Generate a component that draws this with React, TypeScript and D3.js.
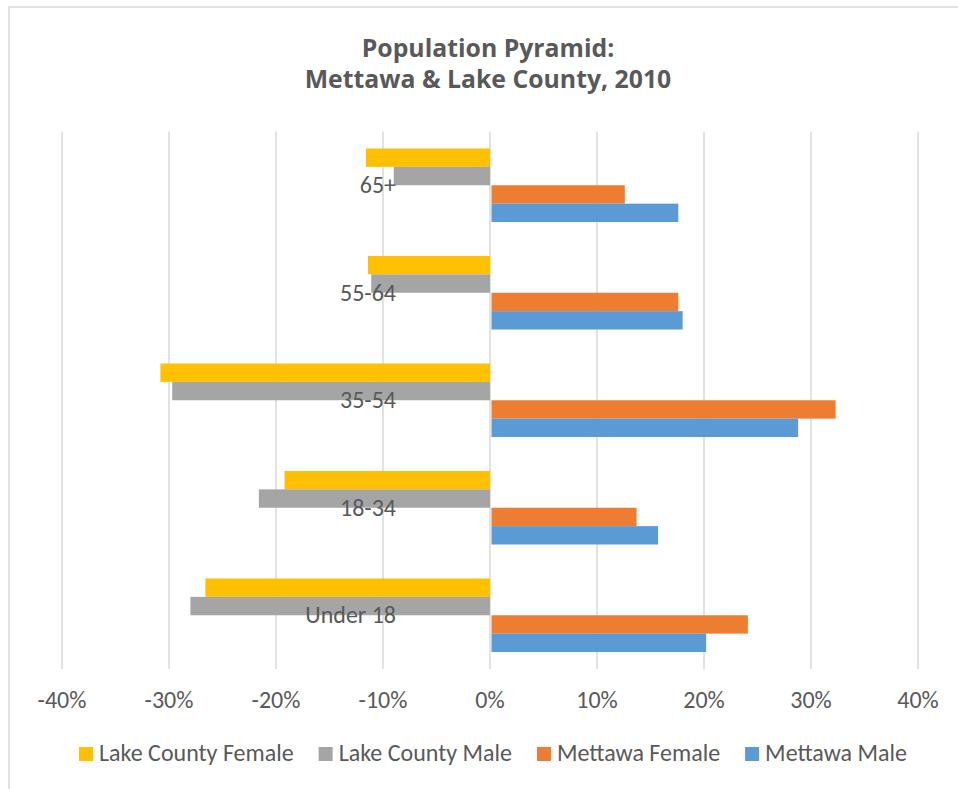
import React, { useEffect, useRef } from "react";
import * as d3 from "d3";

// Age groups, top to bottom
const ageGroups = ["65+", "55-64", "35-54", "18-34", "Under 18"];

// Series names (legend order) and colours
const seriesNames = ["Lake County Female", "Lake County Male", "Mettawa Female", "Mettawa Male"];
const seriesColors = ["#FFC000", "#A5A5A5", "#ED7D31", "#5B9BD5"];

// Share of population by age group (Lake County plotted to the left as negatives)
const lakeCountyFemale = [-0.116, -0.114, -0.308, -0.192, -0.266];
const lakeCountyMale = [-0.09, -0.111, -0.297, -0.216, -0.28];
const mettawaFemale = [0.126, 0.176, 0.323, 0.137, 0.241];
const mettawaMale = [0.176, 0.18, 0.288, 0.157, 0.202];

const tickValues = [-0.4, -0.3, -0.2, -0.1, 0, 0.1, 0.2, 0.3, 0.4];
const titleLines = ["Population Pyramid:", "Mettawa & Lake County, 2010"];

const W = 958;
const H = 789;
const FONT = "Calibri, Carlito, 'Open Sans', sans-serif";
const TITLE_FONT = "'Open Sans', 'Segoe UI', sans-serif";
const TEXT = "#595959";
const LABEL_SIZE = 24;

export default function App() {
  const ref = useRef<SVGSVGElement | null>(null);

  useEffect(() => {
    const svg = d3.select(ref.current);
    svg.selectAll("*").remove();

    const seriesValues = [lakeCountyFemale, lakeCountyMale, mettawaFemale, mettawaMale];

    // chart frame
    svg
      .append("rect")
      .attr("x", 9)
      .attr("y", 7)
      .attr("width", 980)
      .attr("height", 800)
      .attr("fill", "#fff")
      .attr("stroke", "#d9d9d9")
      .attr("stroke-width", 1.5);

    // title
    svg
      .append("g")
      .selectAll("text")
      .data(titleLines)
      .join("text")
      .attr("x", 488)
      .attr("y", (_, i) => 56.5 + i * 31.5)
      .attr("text-anchor", "middle")
      .attr("font-family", TITLE_FONT)
      .attr("font-weight", "bold")
      .attr("font-size", 24.8)
      .attr("fill", TEXT)
      .text((d) => d);

    const x = d3.scaleLinear().domain([-0.4, 0.4]).range([62, 918]);
    const y = d3
      .scaleBand<string>()
      .domain(ageGroups)
      .range([131.5, 669])
      .paddingInner(0.316)
      .paddingOuter(0.158);
    const ySub = d3
      .scaleBand<number>()
      .domain(d3.range(seriesNames.length))
      .range([0, y.bandwidth()]);

    // vertical gridlines
    svg
      .append("g")
      .selectAll("line")
      .data(tickValues)
      .join("line")
      .attr("x1", (d) => x(d))
      .attr("x2", (d) => x(d))
      .attr("y1", 131.5)
      .attr("y2", 669)
      .attr("stroke", "#d9d9d9")
      .attr("stroke-width", 1.5);

    // bars
    const rows = ageGroups.flatMap((g, gi) =>
      seriesValues.map((vals, si) => ({ g, si, v: vals[gi] }))
    );
    svg
      .append("g")
      .selectAll("rect")
      .data(rows)
      .join("rect")
      .attr("x", (d) => (d.v < 0 ? x(d.v) : x(0) + 1.5))
      .attr("width", (d) => Math.abs(x(d.v) - x(0)) - (d.v < 0 ? 0 : 1.5))
      .attr("y", (d) => (y(d.g) as number) + (ySub(d.si) as number))
      .attr("height", ySub.bandwidth())
      .attr("fill", (d) => seriesColors[d.si]);

    // category labels
    svg
      .append("g")
      .selectAll("text")
      .data(ageGroups)
      .join("text")
      .attr("x", 396)
      .attr("y", (d) => (y(d) as number) + y.bandwidth() / 2 + 8)
      .attr("text-anchor", "end")
      .attr("font-family", FONT)
      .attr("font-size", LABEL_SIZE)
      .attr("fill", TEXT)
      .text((d) => d);

    // x-axis tick labels
    const fmt = d3.format(".0%");
    svg
      .append("g")
      .selectAll("text")
      .data(tickValues)
      .join("text")
      .attr("x", (d) => x(d))
      .attr("y", 708)
      .attr("text-anchor", "middle")
      .attr("font-family", FONT)
      .attr("font-size", LABEL_SIZE)
      .attr("fill", TEXT)
      .text((d) => fmt(d).replace("−", "-"));

    // legend, centred under the plot
    const legend = svg.append("g");
    const items = legend
      .selectAll("g")
      .data(seriesNames)
      .join("g");
    items
      .append("rect")
      .attr("width", 14)
      .attr("height", 14)
      .attr("y", 747)
      .attr("fill", (_, i) => seriesColors[i]);
    const labels = items
      .append("text")
      .attr("x", 20)
      .attr("y", 761)
      .attr("font-family", FONT)
      .attr("font-size", LABEL_SIZE)
      .attr("fill", TEXT)
      .text((d) => d);
    const widths = labels.nodes().map((n) => (n as SVGTextElement).getComputedTextLength());
    const gap = 25;
    const itemW = widths.map((w) => 20 + w);
    const total = d3.sum(itemW) + gap * (itemW.length - 1);
    let cx = 493 - total / 2;
    items.each(function (_, i) {
      d3.select(this).attr("transform", `translate(${cx},0)`);
      cx += itemW[i] + gap;
    });
  }, []);

  return (
    <svg
      ref={ref}
      width={W}
      height={H}
      style={{ position: "absolute", left: 0, top: 0, background: "#fff" }}
    />
  );
}
